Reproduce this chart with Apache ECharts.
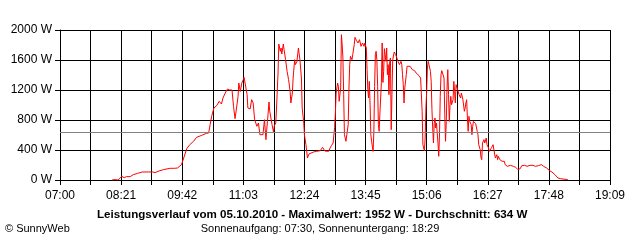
<!DOCTYPE html>
<html>
<head>
<meta charset="utf-8">
<script src="https://cdn.jsdelivr.net/npm/echarts@6/dist/echarts.min.js"></script>
<style>
  html, body { margin: 0; padding: 0; background: #fff; }
  #chart { width: 640px; height: 240px; }
</style>
</head>
<body>
<div id="chart"></div>
<script>
// Leistungsverlauf 05.10.2010 (Uhrzeit, Watt)
var times = [
  '08:09','08:13','08:17','08:22','08:25','08:28','08:30','08:33','08:37','08:39',
  '08:43','08:49','08:57','09:03','09:06','09:10','09:17','09:19','09:26','09:32',
  '09:36','09:41','09:44','09:48','09:52','09:57','10:01','10:08','10:14','10:17',
  '10:19','10:21','10:24','10:28','10:30','10:31','10:32','10:34','10:36','10:39',
  '10:42','10:45','10:48','10:50','10:52','10:54','10:56','10:57','10:59','11:01',
  '11:03','11:04','11:06','11:08','11:09','11:12','11:14','11:16','11:18','11:21',
  '11:23','11:25','11:27','11:29','11:31','11:33','11:34','11:35','11:37','11:38',
  '11:41','11:43','11:44','11:46','11:47','11:49','11:50','11:52','11:53','11:54',
  '11:56','11:57','11:59','12:01','12:03','12:05','12:06','12:08','12:09','12:11',
  '12:12','12:14','12:16','12:17','12:18','12:20','12:21','12:23','12:24','12:26',
  '12:28','12:29','12:30','12:32','12:36','12:40','12:45','12:48','12:51','12:56',
  '12:58','13:00','13:02','13:04','13:05','13:06','13:08','13:09','13:10','13:12',
  '13:13','13:14','13:15','13:16','13:17','13:19','13:20','13:22','13:23','13:24',
  '13:25','13:27','13:28','13:30','13:31','13:33','13:35','13:37','13:39','13:41',
  '13:43','13:44','13:46','13:47','13:48','13:49','13:50','13:51','13:52','13:53',
  '13:55','13:56','13:57','13:58','13:59','14:00','14:01','14:02','14:03','14:04',
  '14:06','14:07','14:08','14:09','14:10','14:11','14:12','14:13','14:14','14:15',
  '14:16','14:17','14:18','14:19','14:20','14:21','14:22','14:23','14:24','14:25',
  '14:27','14:28','14:29','14:30','14:32','14:33','14:34','14:35','14:36','14:37',
  '14:39','14:40','14:42','14:44','14:46','14:47','14:48','14:50','14:52','14:54',
  '14:56','14:57','14:58','14:59','15:00','15:01','15:02','15:03','15:04','15:05',
  '15:06','15:07','15:08','15:09','15:10','15:11','15:12','15:13','15:14','15:15',
  '15:16','15:17','15:18','15:19','15:21','15:22','15:23','15:24','15:25','15:26',
  '15:28','15:29','15:30','15:31','15:32','15:33','15:34','15:35','15:36','15:37',
  '15:38','15:39','15:41','15:42','15:43','15:44','15:45','15:47','15:48','15:49',
  '15:51','15:52','15:54','15:55','15:56','15:57','15:58','15:59','16:00','16:01',
  '16:02','16:03','16:05','16:06','16:07','16:08','16:09','16:11','16:12','16:13',
  '16:14','16:15','16:16','16:17','16:18','16:19','16:20','16:21','16:22','16:23',
  '16:25','16:26','16:28','16:29','16:30','16:32','16:34','16:35','16:36','16:37',
  '16:39','16:40','16:41','16:43','16:44','16:46','16:48','16:49','16:50','16:52',
  '16:53','16:55','16:57','16:58','16:59','17:01','17:02','17:04','17:05','17:07',
  '17:08','17:10','17:12','17:14','17:16','17:19','17:21','17:23','17:25','17:27',
  '17:30','17:32','17:34','17:36','17:38','17:41','17:43','17:45','17:47','17:49',
  '17:52','17:54','17:56','17:58','18:00','18:03','18:05','18:13'
];
var watts = [
  0,5,0,49,30,45,25,45,71,60,
  89,107,107,107,98,116,138,156,156,156,
  161,205,293,418,471,516,569,596,622,626,
  738,849,960,996,996,1049,1058,1013,1093,1160,
  1213,1200,1200,982,818,960,1116,1293,1180,1293,
  1338,1369,1360,1138,960,947,1071,1027,804,716,
  760,604,611,604,804,538,671,782,1040,916,
  740,640,720,760,960,1427,1813,1716,1760,1680,
  1813,1738,1604,1449,1338,1182,1027,1160,1360,1604,
  1538,1580,1760,1738,1604,1360,960,773,600,471,
  293,289,347,330,373,382,391,436,387,382,
  427,462,493,702,893,1160,1293,1249,1049,1227,
  1938,1804,1627,1138,604,516,493,738,1227,1538,
  1649,1604,1671,1804,1902,1858,1827,1871,1782,1827,
  1782,1827,1760,1471,1204,1093,1315,1004,604,516,
  382,640,1249,1671,1716,1604,1249,738,649,880,
  1300,1827,1300,1449,1751,1738,1582,1760,1404,1538,
  1138,1580,1627,671,1138,1604,1627,1707,1693,1671,
  1650,1582,1604,1538,1582,1538,1404,1271,1027,1227,
  1404,1516,1529,1516,1493,1471,1493,1458,1427,1404,
  1390,1382,1360,1338,916,471,427,390,560,960,
  1182,1493,1582,1540,1516,1449,1315,938,693,493,
  751,827,693,760,493,316,600,1116,1404,1458,
  1449,1360,871,516,782,1227,1471,1138,782,1004,
  1116,1004,1071,1315,1182,1027,1271,1204,1182,1138,
  1093,1160,1071,1093,916,960,1027,1071,827,649,
  849,782,738,604,716,782,760,751,738,649,
  604,471,480,404,300,271,493,516,538,493,
  560,471,427,382,396,431,471,449,471,293,
  338,271,316,271,293,249,227,249,205,227,
  182,205,196,209,205,182,196,169,160,138,
  116,151,191,205,196,182,205,196,182,196,
  182,169,191,213,205,182,173,160,138,124,
  107,84,71,49,27,18,7,5
];
var average = 634;
var maximum = 1952;
var dateText = '05.10.2010';
var sunrise = '07:30';
var sunset = '18:29';

// x-Achse: Minuten ab 07:00, Beschriftung alle 81 min
var startMin = 7 * 60;
function toMin(s) {
  var p = s.split(':');
  return parseInt(p[0], 10) * 60 + parseInt(p[1], 10) - startMin;
}
function fmtTime(v) {
  var m = Math.round(v) + startMin;
  var h = Math.floor(m / 60), mm = m % 60;
  return (h < 10 ? '0' : '') + h + ':' + (mm < 10 ? '0' : '') + mm;
}

var points = [];
for (var i = 0; i < times.length; i++) {
  points.push([toMin(times[i]), watts[i]]);
}

var font = 'Arial, "Liberation Sans", sans-serif';
var chart = echarts.init(document.getElementById('chart'), null, { renderer: 'canvas' });
var option = {
  animation: false,
  backgroundColor: '#fff',
  title: [
    {
      text: 'Leistungsverlauf vom ' + dateText + ' - Maximalwert: ' + maximum + ' W - Durchschnitt: ' + average + ' W',
      left: 97,
      top: 208,
      padding: 0,
      textStyle: { fontFamily: font, fontSize: 11.6, fontWeight: 'bold', color: '#000', lineHeight: 14 }
    },
    {
      text: 'Sonnenaufgang: ' + sunrise + ', Sonnenuntergang: ' + sunset,
      left: 'center',
      top: 222,
      padding: 0,
      textStyle: { fontFamily: font, fontSize: 11, fontWeight: 'normal', color: '#000', lineHeight: 14 }
    },
    {
      text: '© SunnyWeb',
      left: 5,
      top: 222,
      padding: 0,
      textStyle: { fontFamily: font, fontSize: 11, fontWeight: 'normal', color: '#000', lineHeight: 14 }
    }
  ],
  grid: { left: 60, right: 30, top: 30, bottom: 60 },
  xAxis: {
    type: 'value',
    min: 0,
    max: 729,
    interval: 40.5,
    axisLine: { show: true, lineStyle: { color: '#000', width: 1 } },
    axisTick: { show: true, length: 5, lineStyle: { color: '#000' } },
    axisLabel: {
      color: '#000',
      fontFamily: font,
      fontSize: 12,
      margin: 10,
      formatter: function (v) {
        return (Math.round(v * 2) % 162 === 0) ? fmtTime(v) : '';
      }
    },
    splitLine: { show: true, lineStyle: { color: '#000', width: 1 } }
  },
  yAxis: {
    type: 'value',
    min: 0,
    max: 2000,
    interval: 400,
    axisLine: { show: true, lineStyle: { color: '#000', width: 1 } },
    axisTick: { show: true, length: 5, lineStyle: { color: '#000' } },
    axisLabel: {
      color: '#000',
      fontFamily: font,
      fontSize: 12,
      margin: 8,
      formatter: function (v) { return v + ' W'; }
    },
    splitLine: { show: true, lineStyle: { color: '#000', width: 1 } }
  },
  series: [
    {
      type: 'line',
      data: points,
      showSymbol: false,
      lineStyle: { color: '#ff0000', width: 1 },
      markLine: {
        silent: true,
        symbol: ['none', 'none'],
        label: { show: false },
        lineStyle: { color: '#808080', width: 1, type: 'solid' },
        data: [{ yAxis: average }]
      }
    }
  ]
};
chart.setOption(option);
</script>
</body>
</html>
